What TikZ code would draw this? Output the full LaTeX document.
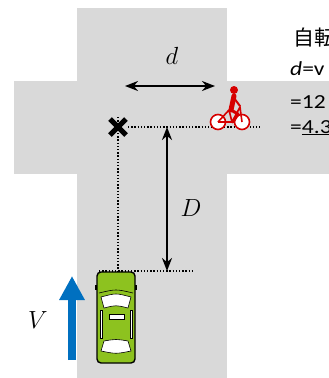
\documentclass[tikz,border=0pt]{standalone}
\usepackage{fontspec}
\setmainfont{Carlito}
\newfontfamily\notefont[FakeStretch=1.18]{Carlito}
\newfontfamily\jpfont{Noto Sans CJK JP}
\usetikzlibrary{arrows.meta}

\begin{document}
\begin{tikzpicture}[x=1bp,y=-1bp,
    dimarrow/.style={line width=2bp,{Stealth[length=13bp,width=10bp]}-{Stealth[length=13bp,width=10bp]}},
    guide/.style={line width=1.6bp,dash pattern=on 1.4bp off 1.8bp},
    biglabel/.style={font=\fontsize{37}{40}\selectfont,inner sep=0pt},
    notetext/.style={font=\notefont\fontsize{20}{22}\selectfont,inner sep=0pt,anchor=base west}]
  \definecolor{kRoad}{RGB}{217,217,217}
  \definecolor{kBlue}{RGB}{0,112,192}
  \definecolor{kCar}{RGB}{141,194,31}
  \definecolor{kBike}{RGB}{214,0,0}
  \useasboundingbox (0,0) rectangle (329,378);

  % road
  \fill[kRoad] (77,8) rectangle (227,378);
  \fill[kRoad] (14,81) rectangle (329,174);

  % points
  \coordinate (mark) at (118,127);
  \coordinate (bikept) at (260,127);
  \coordinate (carpt) at (118,271);
  \coordinate (carL) at (99,271);
  \coordinate (carR) at (193,271);
  \coordinate (dL) at (125,86);
  \coordinate (dR) at (215,86);
  \coordinate (Dtop) at (167,127);
  \coordinate (Dbot) at (167,271);
  \coordinate (vtail) at (72,360);
  \coordinate (vhead) at (72,276);

  % guide lines
  \draw[guide] ([xshift=10bp]mark) -- (bikept);
  \draw[guide] ([yshift=10bp]mark) -- (carpt);
  \draw[guide] (carL) -- (carR);

  % cross mark
  \draw[line width=5bp] ([shift={(-8,-8)}]mark) -- ([shift={(8,8)}]mark);
  \draw[line width=5bp] ([shift={(-8,8)}]mark) -- ([shift={(8,-8)}]mark);

  % distances
  \draw[dimarrow] (dL) -- (dR);
  \node[biglabel] (dlab) at (172,56) {$d$};
  \draw[dimarrow] (Dtop) -- (Dbot);
  \node[biglabel] (Dlab) at (191,208) {$D$};

  % speed
  \draw[kBlue,line width=8bp,-{Triangle[length=24bp,width=24bp]}] (vtail) -- (vhead);
  \node[biglabel] (Vlab) at (38,320) {$V$};

  % bicycle
  \draw[kBike,line width=1.6bp,fill=white] (218,122) circle (7.5);
  \draw[kBike,line width=1.6bp,fill=white] (242,122) circle (7.5);
  \draw[kBike,line width=1.6bp,line join=round]
    (218,122) -- (229,110) -- (232,122) -- (240,107) -- (242,122);
  \draw[kBike,line width=1.6bp] (232,122) -- (218,122);
  \fill[kBike] (234,90) circle (4);
  \draw[kBike,line width=5bp,line cap=round] (234,96) -- (231,110);
  \draw[kBike,line width=3bp,line cap=round,line join=round] (231,110) -- (238,114) -- (233,122);
  \draw[kBike,line width=2bp,line cap=round] (234,98) -- (240,106);

  % car
  \fill[black] (95,285) rectangle (98,290);
  \fill[black] (134,285) rectangle (137,290);
  \draw[fill=kCar,line width=1.4bp,rounded corners=4bp] (97,272) rectangle (135,363);
  \draw[line width=0.6bp] (99,293) .. controls (116,289) .. (133,293);
  \draw[fill=white,line width=0.6bp] (101,297) .. controls (116,293) .. (131,297)
    -- (128,308) .. controls (116,305) .. (104,308) -- cycle;
  \draw[fill=white,line width=0.6bp] (109,314) rectangle (124,319);
  \draw[fill=white,line width=0.6bp] (100,310) rectangle (102,338);
  \draw[fill=white,line width=0.6bp] (130,310) rectangle (132,338);
  \draw[fill=white,line width=0.6bp] (101,351) .. controls (116,354) .. (131,351)
    -- (128,341) .. controls (116,339) .. (104,341) -- cycle;

  % note
  \node[notetext,font=\jpfont\fontsize{21}{24}\selectfont] (n1) at (293,45) {自転車};
  \node[notetext] (n2) at (290,75) {\textit{d}=v};
  \node[notetext] (n3) at (290,108) {=12};
  \node[notetext] (n4) at (290,133) {=\underline{4.3}};
\end{tikzpicture}
\end{document}
